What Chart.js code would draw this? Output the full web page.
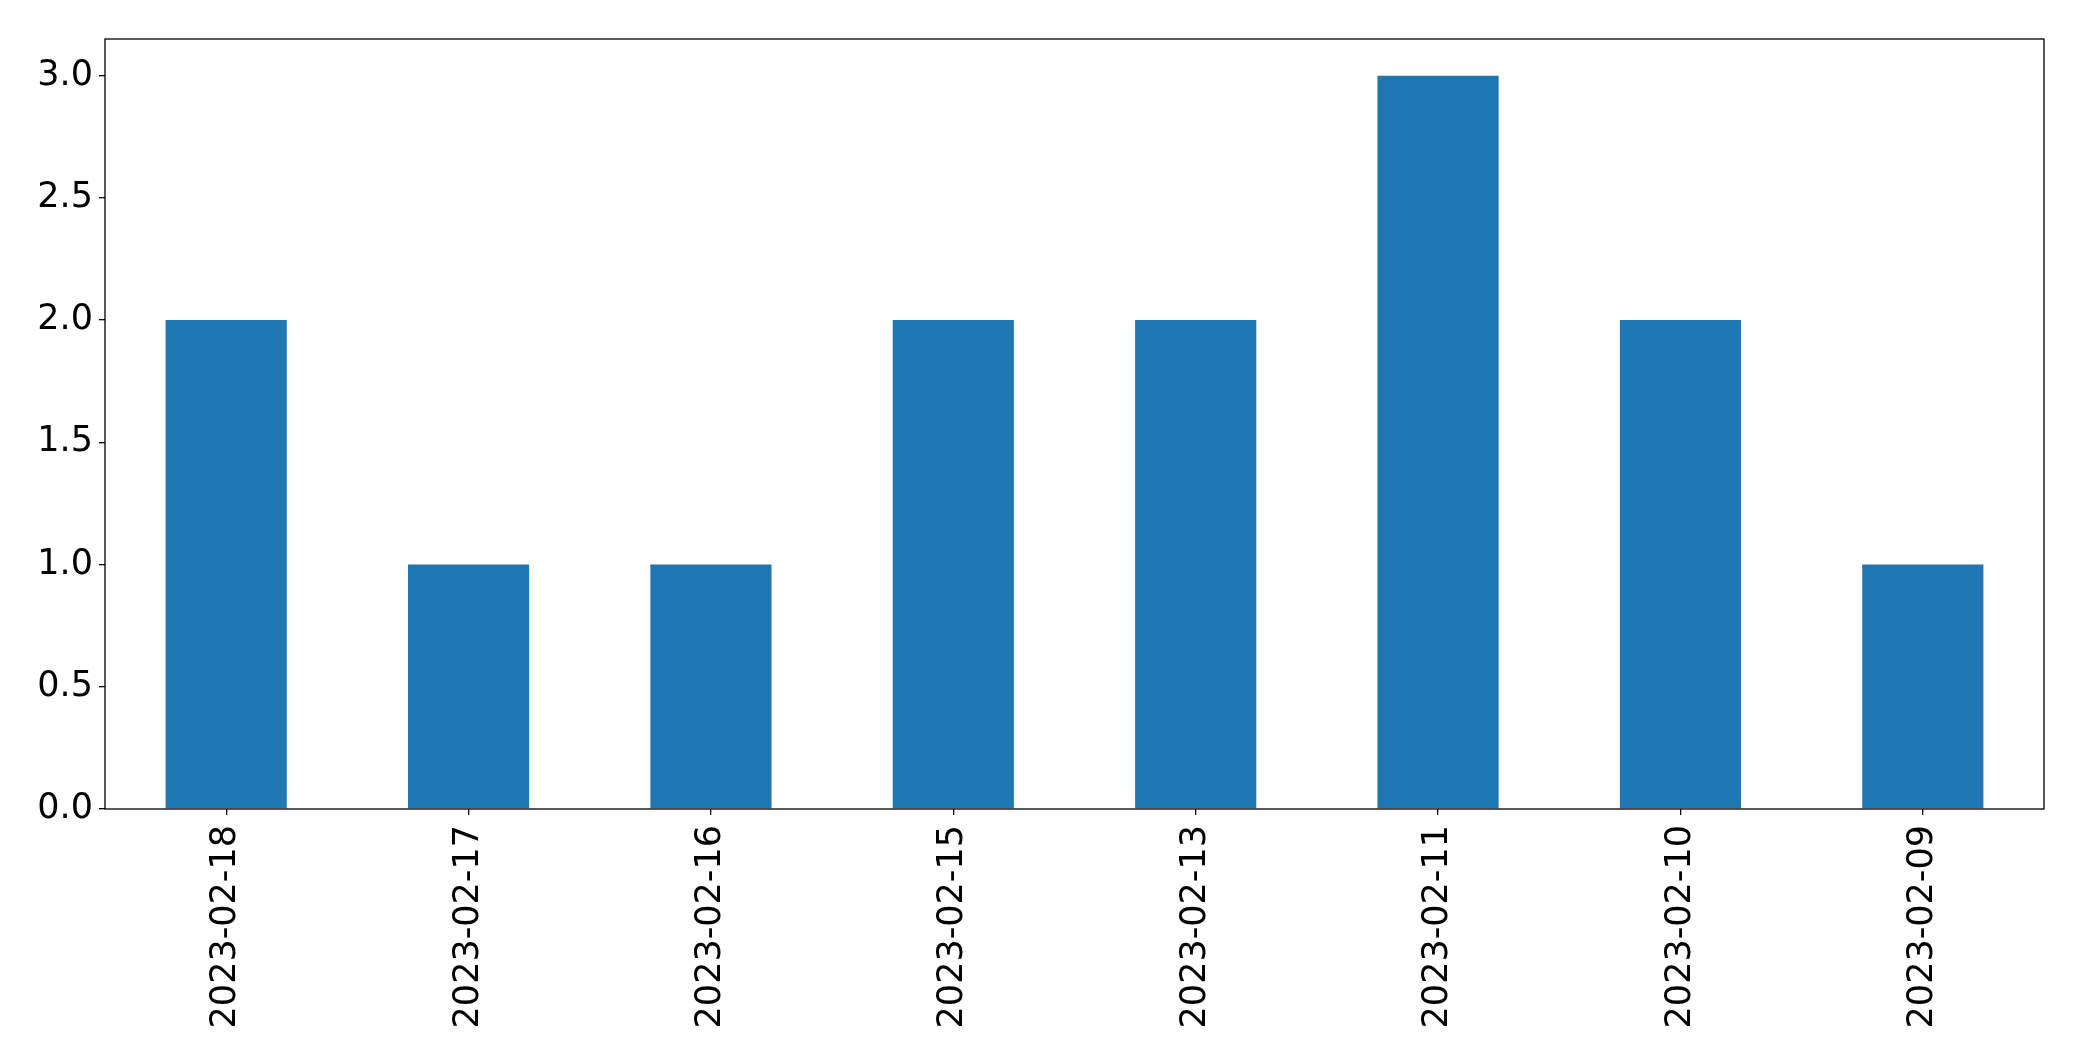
<!DOCTYPE html>
<html>
<head>
<meta charset="utf-8">
<script src="https://cdn.jsdelivr.net/npm/chart.js@4/dist/chart.umd.min.js"></script>
<style>
  html, body { margin: 0; padding: 0; background: #fff; }
  #wrap { width: 2082px; height: 1061px; }
</style>
</head>
<body>
<div id="wrap"><canvas id="chart" width="2082" height="1061"></canvas></div>
<script>
const categories = ['2023-02-18', '2023-02-17', '2023-02-16', '2023-02-15', '2023-02-13', '2023-02-11', '2023-02-10', '2023-02-09'];
const counts = [2, 1, 1, 2, 2, 3, 2, 1];
const yTicks = [0, 0.5, 1.0, 1.5, 2.0, 2.5, 3.0];

// cadre complet autour de la zone du graphique (style matplotlib)
const frame = {
    id: 'frame',
    afterDraw(chart) {
        const a = chart.chartArea;
        const ctx = chart.ctx;
        ctx.save();
        ctx.strokeStyle = '#000';
        ctx.lineWidth = 1.3;
        ctx.strokeRect(a.left, a.top, a.right - a.left, a.bottom - a.top);
        ctx.restore();
    }
};

const font = { family: 'DejaVu Sans', size: 35 };

new Chart(document.getElementById('chart'), {
    type: 'bar',
    data: {
        labels: categories,
        datasets: [{
            data: counts,
            backgroundColor: '#1f77b4',
            borderWidth: 0,
            barPercentage: 0.5,
            categoryPercentage: 1.0
        }]
    },
    options: {
        responsive: false,
        animation: false,
        devicePixelRatio: 1,
        layout: { padding: { top: 39, right: 38, left: 0, bottom: 0 } },
        plugins: { legend: { display: false }, tooltip: { enabled: false } },
        scales: {
            x: {
                grid: { display: true, offset: false, drawOnChartArea: false, color: '#000', lineWidth: 1.3, tickLength: 6 },
                border: { display: false },
                ticks: { color: '#000', font: font, minRotation: 90, maxRotation: 90, padding: 10, autoSkip: false },
                afterFit(scale) { scale.height = 252; }
            },
            y: {
                min: 0,
                max: 3.15,
                grid: { display: true, drawOnChartArea: false, color: '#000', lineWidth: 1.3, tickLength: 6 },
                border: { display: false },
                ticks: { color: '#000', font: font, padding: 6, callback: v => v.toFixed(1) },
                afterBuildTicks(scale) { scale.ticks = yTicks.map(v => ({ value: v })); },
                afterFit(scale) { scale.width = 105; }
            }
        }
    },
    plugins: [frame]
});
</script>
</body>
</html>
